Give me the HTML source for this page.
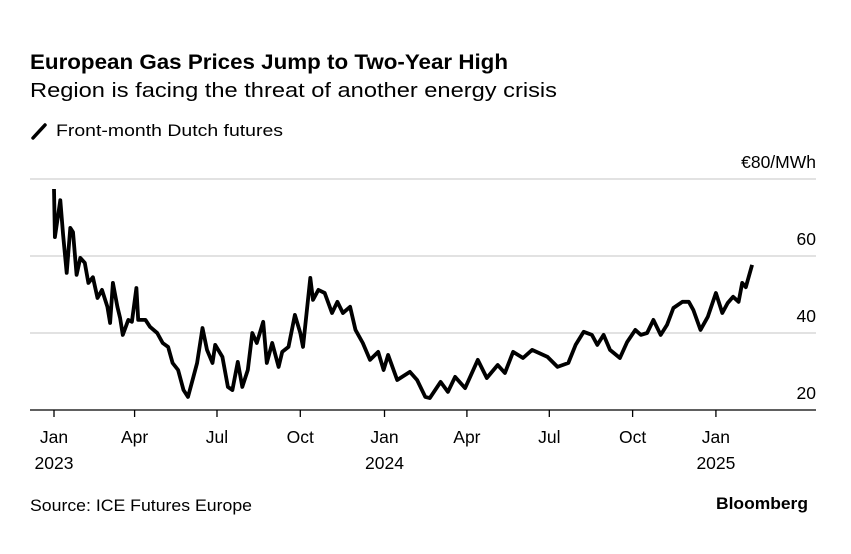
<!DOCTYPE html>
<html><head><meta charset="utf-8">
<style>
body{margin:0;background:#fff;font-family:"Liberation Sans",sans-serif;color:#000}
#wrap{position:relative;width:851px;height:554px;overflow:hidden}
</style></head>
<body>
<div id="wrap">
<svg id="chart" width="851" height="554">
<text x="30" y="69" font-size="21.5" font-weight="bold" textLength="478" lengthAdjust="spacingAndGlyphs">European Gas Prices Jump to Two-Year High</text>
<text x="30" y="97" font-size="20" textLength="527" lengthAdjust="spacingAndGlyphs">Region is facing the threat of another energy crisis</text>
<g>
<line x1="33" y1="138" x2="45" y2="125" stroke="#000" stroke-width="3.5" stroke-linecap="round"/>
<text x="56" y="136" font-size="16.5" textLength="227" lengthAdjust="spacingAndGlyphs">Front-month Dutch futures</text>
</g>
<g id="grid"></g>
<g id="xaxis"></g>
<path id="line" fill="none" stroke="#000" stroke-width="3.8" stroke-linejoin="round"/>
<text x="30" y="511" font-size="16.5" textLength="222" lengthAdjust="spacingAndGlyphs">Source: ICE Futures Europe</text>
<text x="716" y="509" font-size="17" font-weight="bold" textLength="92" lengthAdjust="spacingAndGlyphs">Bloomberg</text>
</svg>
</div>
<script>
// days since 2023-01-02
const days=[0,1,7,10,14,18,21,25,29,34,38,43,48,53,59,62,65,70,73,76,82,86,91,93,101,106,114,120,126,131,137,143,148,154,158,164,169,175,178,186,192,197,203,208,214,219,224,231,235,241,248,252,259,266,272,275,283,286,292,299,307,313,319,327,333,341,349,358,364,369,379,393,401,410,415,427,435,443,454,468,478,490,498,507,518,528,545,556,568,576,585,594,600,607,614,625,633,642,648,655,662,670,677,684,694,701,706,714,722,731,738,744,750,756,760,764,771];
const prices=[77.4,64.9,74.5,65.5,55.6,67.3,66.2,55.1,59.5,58.2,53.0,54.5,49.1,51.2,46.8,42.6,53.0,46.8,43.9,39.5,43.4,42.9,51.7,43.4,43.4,41.6,40.0,37.4,36.4,32.2,30.4,25.2,23.4,28.6,32.2,41.3,35.6,32.2,36.9,33.8,26.0,25.2,32.5,26.0,30.4,40.0,37.4,42.9,32.2,37.4,31.2,35.1,36.4,44.7,40.0,36.4,54.3,48.6,51.2,50.4,45.2,48.1,45.2,46.8,40.8,37.4,33.0,35.1,30.4,34.3,27.8,29.9,27.8,23.4,23.1,27.3,24.7,28.6,25.7,33.0,28.3,31.7,29.6,35.1,33.5,35.6,33.8,31.2,32.2,36.9,40.3,39.5,36.9,39.5,35.6,33.5,37.7,40.8,39.5,40.0,43.4,39.5,42.1,46.5,48.1,48.1,46.0,40.8,44.2,50.4,45.2,47.8,49.4,48.1,53.0,51.9,57.7];
const yTicks=[20,40,60,80];
const yTickLabels=["20","40","60","€80/MWh"];
const xTickDays=[0,89,180,272,365,456,547,639,731];
const xTickMonths=["Jan","Apr","Jul","Oct","Jan","Apr","Jul","Oct","Jan"];
const xTickYears=["2023","","","","2024","","","","2025"];

const X=d=>54+d*0.9055;
const Y=v=>410-(v-20)*3.85;
const NS="http://www.w3.org/2000/svg";
const grid=document.getElementById('grid'), xa=document.getElementById('xaxis');
yTicks.forEach((t,i)=>{
  if(t!==20){
    const l=document.createElementNS(NS,'line');
    l.setAttribute('x1',30);l.setAttribute('x2',816);l.setAttribute('y1',Y(t));l.setAttribute('y2',Y(t));
    l.setAttribute('stroke','#d9d9d9');l.setAttribute('stroke-width','1.5');
    
    
    grid.appendChild(l);
  }
  const tx=document.createElementNS(NS,'text');
  tx.setAttribute('x',816);tx.setAttribute('y',Y(t)-11);tx.setAttribute('text-anchor','end');tx.setAttribute('font-size','17.5');
  tx.textContent=yTickLabels[i];
  
  
  grid.appendChild(tx);
});
const base=document.createElementNS(NS,'line');
base.setAttribute('x1',30);base.setAttribute('x2',816);base.setAttribute('y1',410);base.setAttribute('y2',410);
base.setAttribute('stroke','#000');base.setAttribute('stroke-width','1.3');


xa.appendChild(base);
xTickDays.forEach((d,i)=>{
  const l=document.createElementNS(NS,'line');
  l.setAttribute('x1',X(d));l.setAttribute('x2',X(d));l.setAttribute('y1',410);l.setAttribute('y2',417);
  l.setAttribute('stroke','#000');l.setAttribute('stroke-width','1.3');
  
  
  xa.appendChild(l);
  const t=document.createElementNS(NS,'text');
  t.setAttribute('x',X(d));t.setAttribute('y',443);t.setAttribute('text-anchor','middle');t.setAttribute('font-size','17.5');
  t.textContent=xTickMonths[i];
  
  
  xa.appendChild(t);
  if(xTickYears[i]){
    const y=document.createElementNS(NS,'text');
    y.setAttribute('x',X(d));y.setAttribute('y',469);y.setAttribute('text-anchor','middle');y.setAttribute('font-size','17.5');
    y.textContent=xTickYears[i];
    
    
    xa.appendChild(y);
  }
});
document.getElementById('line').setAttribute('d',days.map((d,i)=>(i?'L':'M')+X(d).toFixed(1)+' '+Y(prices[i]).toFixed(1)).join(' '));
</script>
</body></html>
